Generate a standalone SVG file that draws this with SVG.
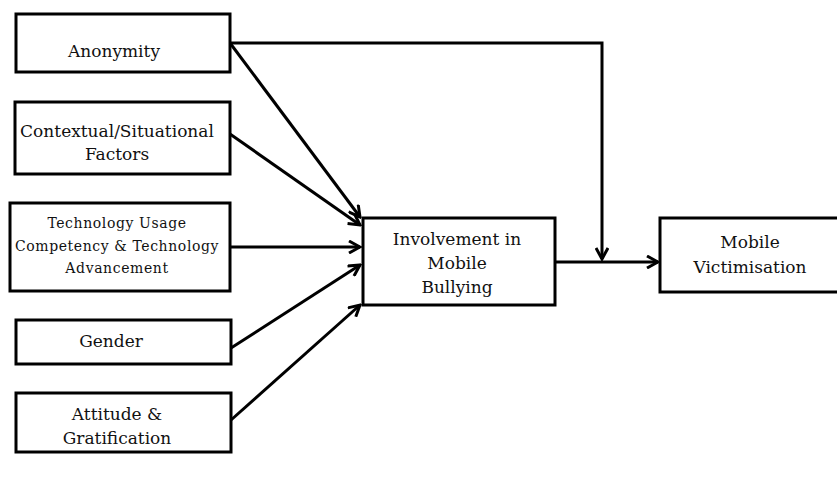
<svg xmlns="http://www.w3.org/2000/svg" width="837" height="486" viewBox="0 0 837 486">
<defs>
<style>
.box{fill:#fff;stroke:#000;stroke-width:3}
.t{font-family:"DejaVu Serif","Liberation Serif",serif;font-size:17px;fill:#111;text-anchor:middle}
.s{font-size:14px;letter-spacing:0.6px}
.c{fill:none;stroke:#000;stroke-width:3}
</style>
<marker id="ah" markerWidth="14" markerHeight="14" refX="12" refY="7" orient="auto" markerUnits="userSpaceOnUse">
<path d="M1,1 L12,7 L1,13" fill="none" stroke="#000" stroke-width="3" stroke-linejoin="miter"/>
</marker>
</defs>
<rect width="837" height="486" fill="#fff"/>
<g id="connectors">
<polyline class="c" points="230,43 602,43 602,259" marker-end="url(#ah)"/>
<line class="c" x1="230" y1="43" x2="360" y2="217" marker-end="url(#ah)"/>
<line class="c" x1="230" y1="134" x2="360" y2="225" marker-end="url(#ah)"/>
<line class="c" x1="230" y1="247" x2="360" y2="247" marker-end="url(#ah)"/>
<line class="c" x1="231" y1="348" x2="360" y2="265" marker-end="url(#ah)"/>
<line class="c" x1="231" y1="420" x2="360" y2="305" marker-end="url(#ah)"/>
<line class="c" x1="555" y1="262" x2="658" y2="262" marker-end="url(#ah)"/>
</g>
<g id="anonymity">
<rect class="box" x="16" y="14" width="214" height="58"/>
<text class="t" x="114" y="57">Anonymity</text>
</g>
<g id="contextual">
<rect class="box" x="15" y="102" width="215" height="72"/>
<text class="t" x="117" y="137">Contextual/Situational</text>
<text class="t" x="117" y="160">Factors</text>
</g>
<g id="technology">
<rect class="box" x="10" y="203" width="220" height="88"/>
<text class="t s" x="117" y="228">Technology Usage</text>
<text class="t s" x="117" y="251">Competency &amp; Technology</text>
<text class="t s" x="117" y="273">Advancement</text>
</g>
<g id="gender">
<rect class="box" x="16" y="320" width="215" height="44"/>
<text class="t" x="111" y="347">Gender</text>
</g>
<g id="attitude">
<rect class="box" x="16" y="393" width="215" height="59"/>
<text class="t" x="117" y="420">Attitude &amp;</text>
<text class="t" x="117" y="444">Gratification</text>
</g>
<g id="involvement">
<rect class="box" x="363" y="218" width="192" height="87"/>
<text class="t" x="457" y="245">Involvement in</text>
<text class="t" x="457" y="269">Mobile</text>
<text class="t" x="457" y="293">Bullying</text>
</g>
<g id="victimisation">
<rect class="box" x="660" y="218" width="180" height="74"/>
<text class="t" x="750" y="248">Mobile</text>
<text class="t" x="750" y="273">Victimisation</text>
</g>
</svg>
